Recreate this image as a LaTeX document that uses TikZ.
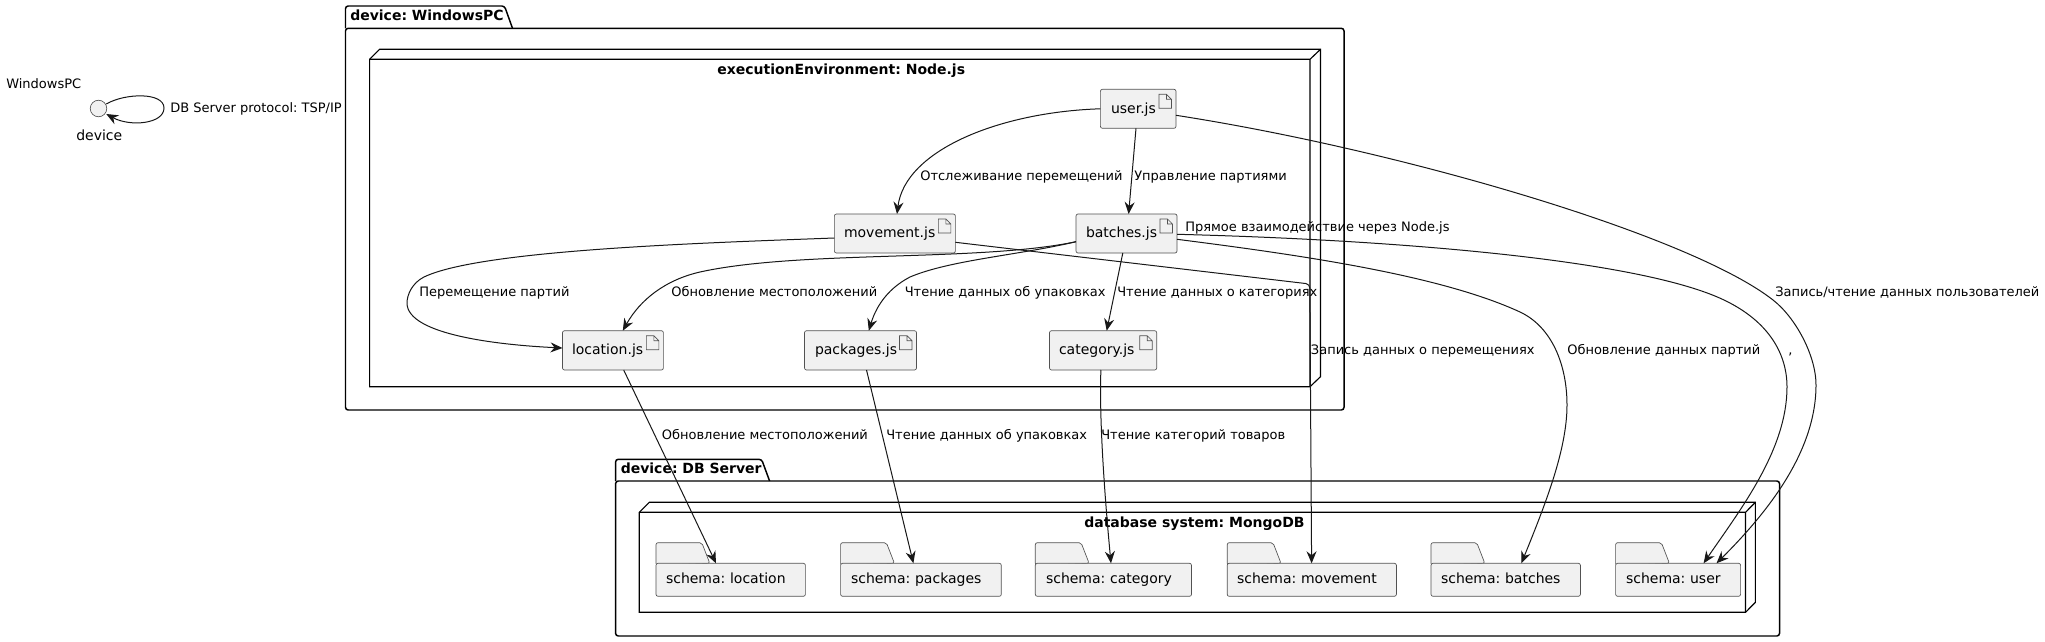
\documentclass[tikz,border=0pt]{standalone}
\usepackage{fontspec}
\setmainfont{DejaVu Sans}
\usetikzlibrary{arrows.meta}
\definecolor{ink}{HTML}{181818}
\definecolor{boxfill}{HTML}{F1F1F1}
\tikzset{
  edge/.style={draw=ink,line width=.75pt,-{Stealth[length=9pt,width=7.5pt,inset=3pt]}},
  frameline/.style={draw=black,line width=1.1pt},
  nodeline/.style={draw=black,line width=.85pt},
  thinbox/.style={draw=ink!75,line width=.5pt,fill=boxfill},
  lbl/.style={inner sep=0pt,anchor=west,text height=8.6pt,text depth=2.4pt,font=\fontsize{9.75}{12}\selectfont\frenchspacing},
  bigl/.style={lbl,font=\fontsize{10.5}{12}\selectfont\frenchspacing},
  ttl/.style={lbl,font=\fontsize{10.5}{12}\selectfont\bfseries\frenchspacing},
}
% name, x1,y1,x2,y2, text left, text
\newcommand{\filebox}[7]{%
  \pgfmathsetmacro{\bw}{(#4-#2)*.75}\pgfmathsetmacro{\bh}{(#5-#3)*.75}%
  \pgfmathsetmacro{\bin}{(#6-#2)*.75}\pgfmathsetmacro{\btw}{(#4-#2)*.75-2*\bin}%
  \node[thinbox,rounded corners=1.5pt,outer sep=0pt,inner xsep=\bin pt,inner ysep=0pt,minimum width=\bw pt,minimum height=\bh pt,text width=\btw pt,align=left,
    font=\fontsize{10.5}{12}\selectfont\frenchspacing,text height=8.2pt,text depth=1.8pt] (#1) at ({(#2+#4)/2},{(#3+#5)/2}) {#7};
  \draw[draw=ink!75,line width=.5pt,fill=boxfill] ([shift={(-17,5)}]#1.north east) -- ++(7.5,0) -- ++(5,5) -- ++(0,9) -- ++(-12.5,0) -- cycle
    ([shift={(-9.5,5)}]#1.north east) -- ++(0,5) -- ++(5,0);
}
% name, x1,y1,x2,y2, text left, text
\newcommand{\folderbox}[7]{%
  \pgfmathsetmacro{\bw}{(#4-#2)*.75}\pgfmathsetmacro{\bh}{(#5-#3)*.75}%
  \pgfmathsetmacro{\bin}{(#6-#2)*.75}\pgfmathsetmacro{\btw}{(#4-#2)*.75-2*\bin}%
  \draw[thinbox,rounded corners=1.5pt] (#2,#3+2) -- (#2,#3-20.6) -- (#2+45.8,#3-20.6) -- (#2+53.8,#3) -- cycle;
  \node[thinbox,rounded corners=1.5pt,outer sep=0pt,inner xsep=\bin pt,inner ysep=0pt,minimum width=\bw pt,minimum height=\bh pt,text width=\btw pt,align=left,
    font=\fontsize{10.5}{12}\selectfont\frenchspacing,text height=7.6pt,text depth=2.4pt] (#1) at ({(#2+#4)/2},{(#3+#5)/2}) {#7};
}
\begin{document}
\begin{tikzpicture}[x=.75pt,y=-.75pt]
\useasboundingbox (0,0) rectangle (2045,642);
\fill[white] (0,0) rectangle (2045,642);

% device: WindowsPC package
\draw[frameline,rounded corners=2pt] (345.5,28.3) -- (345.5,6) -- (504.5,6) -- (512.5,28.3);
\draw[frameline,rounded corners=2pt] (345.5,28.3) -- (1344,28.3) -- (1344,410) -- (345.5,410) -- cycle;
\node[ttl] (pkgw) at (350,16) {device: WindowsPC};
% executionEnvironment node
\draw[nodeline] (369.6,59.3) -- (379.6,49.3) -- (1320.5,49.3) -- (1320.5,376.7) -- (1310,386.7) -- (369.6,386.7) -- cycle;
\draw[nodeline] (369.6,59.3) -- (1310,59.3) -- (1310,386.7) (1310,59.3) -- (1320.5,49.3);
\node[ttl] (envw) at (717,70) {executionEnvironment: Node.js};

% device: DB Server package
\draw[frameline,rounded corners=2pt] (615.6,481) -- (615.6,459.3) -- (761.6,459.3) -- (769.6,481);
\draw[frameline,rounded corners=2pt] (615.6,481) -- (1779.5,481) -- (1779.5,636) -- (615.6,636) -- cycle;
\node[ttl] (pkgd) at (620.5,469.3) {device: DB Server};
% MongoDB node
\draw[nodeline] (639.3,512.3) -- (649.3,502.3) -- (1755.4,502.3) -- (1755.4,602.3) -- (1745.5,612.3) -- (639.3,612.3) -- cycle;
\draw[nodeline] (639.3,512.3) -- (1745.5,512.3) -- (1745.5,612.3) (1745.5,512.3) -- (1755.4,502.3);
\node[ttl] (envd) at (1084,523.7) {database system: MongoDB};

% artifacts
\filebox{uj}{1100.4}{89.3}{1176}{128.3}{1111}{user.js}
\filebox{mv}{834.4}{214}{955.4}{253}{844}{movement.js}
\filebox{bt}{1076}{214}{1177}{253}{1086}{batches.js}
\filebox{lc}{562.5}{330.7}{663.4}{370}{572}{location.js}
\filebox{pk}{804.5}{330.7}{916.5}{370}{815}{packages.js}
\filebox{ct}{1049.5}{330.7}{1156.7}{370}{1059}{category.js}

% schemas
\folderbox{sl}{656}{563.3}{805.4}{596.3}{666}{schema: location}
\folderbox{sp}{840.6}{563.3}{1001.3}{596.3}{851}{schema: packages}
\folderbox{sc}{1035.3}{563.3}{1191.5}{596.3}{1046}{schema: category}
\folderbox{sm}{1227.2}{563.3}{1396.4}{596.3}{1237}{schema: movement}
\folderbox{sb}{1431}{563.3}{1580.4}{596.3}{1441}{schema: batches}
\folderbox{su}{1615.6}{563.3}{1740.6}{596.3}{1626}{schema: user}

% device interface
\node[circle,draw=ink!75,line width=.5pt,fill=boxfill,minimum size=12.4pt,inner sep=0pt,outer sep=0pt] (dev) at (98.5,108.5) {};
\node[bigl] (devn) at (76,136) {device};
\node[lbl] (devs) at (6,84) {WindowsPC};
\draw[edge] ([shift={(-.5,-4.5)}]dev.east) .. controls (125,93) and (164,92) .. (164,108) .. controls (164,124) and (130,127) .. ([shift={(-.5,5.5)}]dev.east);

% connectors
\draw[edge] (uj.west) .. controls (1000,112) and (905,150) .. ([shift={(62.6,0)}]mv.north west);
\draw[edge] ([shift={(35.6,0)}]uj.south west) -- ([shift={(52.6,0)}]bt.north west);
\draw[edge] ([shift={(0,26)}]uj.north east) .. controls (1400,150) and (1690,235) .. (1773,300) .. controls (1795,317) and (1816,355) .. (1816,385) .. controls (1816,450) and (1770,510) .. ([shift={(100.9,0)}]su.north west);
\draw[edge] ([shift={(0,24)}]mv.north west) .. controls (700,243) and (480,250) .. (424,277) .. controls (412,283) and (407,295) .. (407,303) .. controls (407,335) and (500,345) .. ([shift={(0,17.3)}]lc.north west);
\draw[edge,rounded corners=3pt] ([shift={(0,28.3)}]mv.north east) -- (1309.8,284) -- ([shift={(84.4,0)}]sm.north west);
\draw[edge] ([shift={(0,27.7)}]bt.north west) .. controls (980,262) and (800,250) .. (700,272) .. controls (665,280) and (640,300) .. ([shift={(60.3,0)}]lc.north west);
\draw[edge] ([shift={(0,27.7)}]bt.north west) .. controls (1020,255) and (950,260) .. (910,277) .. controls (885,290) and (875,310) .. ([shift={(64.3,0)}]pk.north west);
\draw[edge] ([shift={(46.8,0)}]bt.south west) -- ([shift={(57.2,0)}]ct.north west);
\draw[edge] ([shift={(0,25.3)}]bt.north east) .. controls (1300,255) and (1440,275) .. (1520,312) .. controls (1552,327) and (1567,365) .. (1567,405) .. controls (1567,450) and (1545,505) .. ([shift={(90.4,0)}]sb.north west);
\draw[edge] ([shift={(0,20.3)}]bt.north east) .. controls (1400,240) and (1640,260) .. (1724,300) .. controls (1770,322) and (1787,355) .. (1787,387) .. controls (1787,450) and (1740,510) .. ([shift={(88,0)}]su.north west);
\draw[edge] ([shift={(61.2,0)}]lc.south west) -- ([shift={(60,0)}]sl.north west);
\draw[edge] ([shift={(62,0)}]pk.south west) -- ([shift={(72.8,0)}]sp.north west);
\draw[edge] ([shift={(51.4,0)}]ct.south west) .. controls (1099,420) and (1105,500) .. ([shift={(75.7,0)}]sc.north west);

% edge labels
\node[lbl] (l1) at (170,108) {DB Server protocol: TSP/IP};
\node[lbl] (l2) at (920,176.7) {Отслеживание перемещений};
\node[lbl] (l3) at (1134,176.7) {Управление партиями};
\node[lbl] (l4) at (1185,227) {Прямое взаимодействие через Node.js};
\node[lbl] (l5) at (419,292.7) {Перемещение партий};
\node[lbl] (l6) at (671,292.7) {Обновление местоположений};
\node[lbl] (l7) at (904.5,292.7) {Чтение данных об упаковках};
\node[lbl] (l8) at (1117,292.7) {Чтение данных о категориях};
\node[lbl] (l9) at (1775,292.7) {Запись/чтение данных пользователей};
\node[lbl] (l10) at (1310.7,350.7) {Запись данных о перемещениях};
\node[lbl] (l11) at (1567,350.7) {Обновление данных партий};
\node[lbl] (l12) at (1788,350.7) {,};
\node[lbl] (l13) at (661.6,435) {Обновление местоположений};
\node[lbl] (l14) at (886,435) {Чтение данных об упаковках};
\node[lbl] (l15) at (1101,435) {Чтение категорий товаров};
\end{tikzpicture}
\end{document}
